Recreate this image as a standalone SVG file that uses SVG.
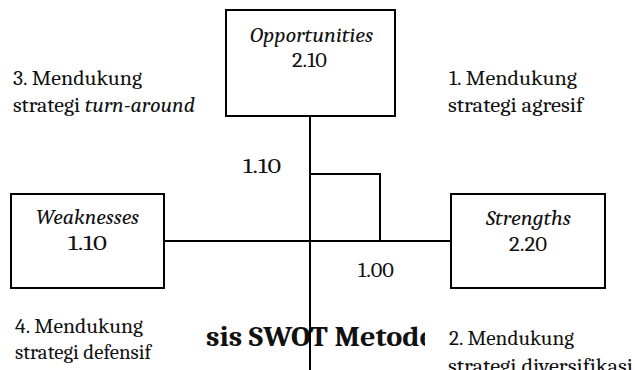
<svg xmlns="http://www.w3.org/2000/svg" width="635" height="370" viewBox="0 0 635 370">
<style>
.t{font-family:Caladea,"Liberation Serif",serif;font-size:21px;fill:#111}
.i{font-style:italic}
.b{font-family:Caladea,"Liberation Serif",serif;font-size:29px;font-weight:bold;fill:#111}
.box{fill:#fff;stroke:#000;stroke-width:2}
.ln{fill:none;stroke:#000;stroke-width:2}
</style>
<defs>
<clipPath id="tc"><rect x="203" y="300" width="222" height="70"/></clipPath>
</defs>
<rect width="635" height="370" fill="#fff"/>
<g id="title" clip-path="url(#tc)">
<text class="b" x="206" y="346" textLength="229" lengthAdjust="spacingAndGlyphs">sis SWOT Metode</text>
</g>
<g id="connectors">
<line class="ln" x1="310" y1="116" x2="310" y2="372"/>
<line class="ln" x1="164" y1="241" x2="451" y2="241"/>
<polyline class="ln" points="310,174 380,174 380,241"/>
</g>
<g id="opportunities">
<rect class="box" x="226" y="10" width="169" height="106"/>
<text class="t i" x="250" y="42" textLength="123" lengthAdjust="spacingAndGlyphs">Opportunities</text>
<text class="t" x="292" y="67" textLength="35" lengthAdjust="spacingAndGlyphs">2.10</text>
</g>
<g id="weaknesses">
<rect class="box" x="11" y="194" width="153" height="94"/>
<text class="t i" x="36" y="224" textLength="103" lengthAdjust="spacingAndGlyphs">Weaknesses</text>
<text class="t" x="68" y="250" textLength="39" lengthAdjust="spacingAndGlyphs">1.10</text>
</g>
<g id="strengths">
<rect class="box" x="451" y="194" width="154" height="94"/>
<text class="t i" x="486" y="225" textLength="85" lengthAdjust="spacingAndGlyphs">Strengths</text>
<text class="t" x="509" y="251" textLength="38" lengthAdjust="spacingAndGlyphs">2.20</text>
</g>
<g id="labels">
<text class="t" x="243" y="173" textLength="38" lengthAdjust="spacingAndGlyphs">1.10</text>
<text class="t" x="358" y="277" textLength="36" lengthAdjust="spacingAndGlyphs">1.00</text>
</g>
<g id="q3">
<text class="t" x="13" y="85" textLength="129" lengthAdjust="spacingAndGlyphs">3. Mendukung</text>
<text class="t" x="13" y="112" textLength="182" lengthAdjust="spacingAndGlyphs">strategi <tspan class="i">turn-around</tspan></text>
</g>
<g id="q1">
<text class="t" x="449" y="85" textLength="128" lengthAdjust="spacingAndGlyphs">1. Mendukung</text>
<text class="t" x="448" y="112" textLength="135" lengthAdjust="spacingAndGlyphs">strategi agresif</text>
</g>
<g id="q4">
<text class="t" x="15" y="333" textLength="128" lengthAdjust="spacingAndGlyphs">4. Mendukung</text>
<text class="t" x="15" y="359" textLength="136" lengthAdjust="spacingAndGlyphs">strategi defensif</text>
</g>
<g id="q2">
<text class="t" x="449" y="345" textLength="125" lengthAdjust="spacingAndGlyphs">2. Mendukung</text>
<text class="t" x="448" y="373" textLength="185" lengthAdjust="spacingAndGlyphs">strategi diversifikasi</text>
</g>
</svg>
